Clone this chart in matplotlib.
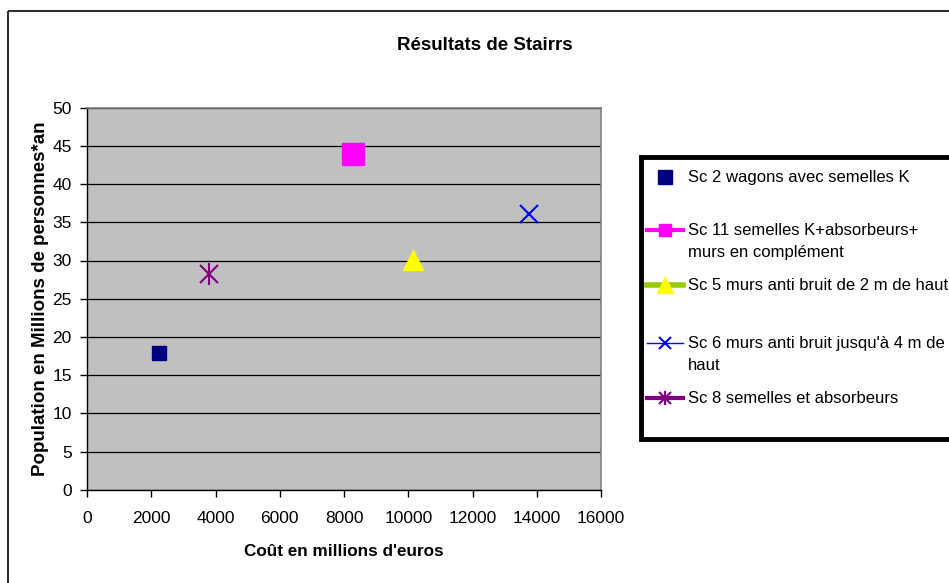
import matplotlib
matplotlib.use("Agg")
import matplotlib.pyplot as plt
from matplotlib.lines import Line2D
from matplotlib.patches import Rectangle

plt.rcParams["font.family"] = ["Liberation Sans", "DejaVu Sans"]

# data
scenarios = [
    "Sc 2 wagons avec semelles K",
    "Sc 11 semelles K+absorbeurs+\nmurs en complément",
    "Sc 5 murs anti bruit de 2 m de haut",
    "Sc 6 murs anti bruit jusqu'à 4 m de\nhaut",
    "Sc 8 semelles et absorbeurs",
]
cost = [2240, 8280, 10160, 13770, 3790]
population = [17.9, 44.0, 30.1, 36.1, 28.2]

colors = ["#000080", "#FF00FF", "#FFFF00", "#0000FF", "#800080"]
line_colors = [None, "#FF00FF", "#99CC00", "#0000FF", "#800080"]

W, H = 949, 583
fig = plt.figure(figsize=(W / 100, H / 100), dpi=100)
fig.patch.set_facecolor("white")

# main plot area (pixel box 87..601 x 107.7..489.7)
ax = fig.add_axes([87 / W, 1 - 489.7 / H, 514 / W, 382 / H])
ax.set_facecolor("#C0C0C0")
ax.set_xlim(0, 16000)
ax.set_ylim(0, 50)
ax.set_xticks(range(0, 16001, 2000))
ax.set_yticks(range(0, 51, 5))
ax.yaxis.grid(True, color="black", linewidth=0.9)
ax.set_axisbelow(True)
for side in ("top", "right"):
    ax.spines[side].set_color("#808080")
    ax.spines[side].set_linewidth(1.2)
for side in ("left", "bottom"):
    ax.spines[side].set_color("black")
    ax.spines[side].set_linewidth(1.0)
ax.tick_params(direction="out", length=5, width=1, labelsize=12.5)
ax.tick_params(axis="x", pad=10)
ax.tick_params(axis="y", pad=6)

# points
ax.plot(cost[0], population[0], "s", color=colors[0], ms=10.5, mec=colors[0])
ax.plot(cost[1], population[1], "s", color=colors[1], ms=15.5, mec=colors[1])
ax.plot(cost[2], population[2], "^", color=colors[2], ms=14, mec=colors[2])
ax.plot(cost[3], population[3], "x", color=colors[3], ms=13.5, mew=1.5)
ax.plot(cost[4], population[4], "x", color=colors[4], ms=13, mew=1.5)
ax.plot(cost[4], population[4], "|", color=colors[4], ms=16, mew=1.5)

ax.set_xlabel("Coût en millions d'euros", fontsize=12.3, fontweight="bold", labelpad=13)
ax.set_ylabel("Population en Millions de personnes*an", fontsize=13.5,
              fontweight="bold", labelpad=2)

# overlay in pixel coordinates for frame, title and legend
ov = fig.add_axes([0, 0, 1, 1], zorder=5)
ov.set_xlim(0, W)
ov.set_ylim(H, 0)
ov.axis("off")
ov.patch.set_alpha(0)

ov.add_patch(Rectangle((8.5, 10.5), 1100, 700, fill=False, edgecolor="#303030",
                       linewidth=1.5, clip_on=False))
ov.text(485, 45, "Résultats de Stairrs", ha="center", va="center",
        fontsize=13.5, fontweight="bold")

ov.add_patch(Rectangle((641, 157), 400, 282, facecolor="white", edgecolor="black",
                       linewidth=3.5, clip_on=False))

entry_y = [177, 230, 285, 343, 398]
line_w = [0, 3, 4, 1, 3]
x0, x1, xm, xt = 647, 683, 665, 688
for i, (label, y) in enumerate(zip(scenarios, entry_y)):
    if line_colors[i] is not None:
        ov.add_line(Line2D([x0, x1], [y, y], color=line_colors[i], linewidth=line_w[i]))
    if i == 0:
        ov.plot(xm, y, "s", color=colors[0], ms=10)
    elif i == 1:
        ov.plot(xm, y, "s", color=colors[1], ms=9)
    elif i == 2:
        ov.plot(xm, y, "^", color=colors[2], ms=11)
    elif i == 3:
        ov.plot(xm, y, "x", color=colors[3], ms=9, mew=1.5)
    else:
        ov.plot(xm, y, "x", color=colors[4], ms=8, mew=1.5)
        ov.plot(xm, y, "|", color=colors[4], ms=10, mew=1.5)
    ov.text(xt, y - 7, label, ha="left", va="top", fontsize=12, linespacing=1.62)

fig.savefig("out.png", dpi=100)
